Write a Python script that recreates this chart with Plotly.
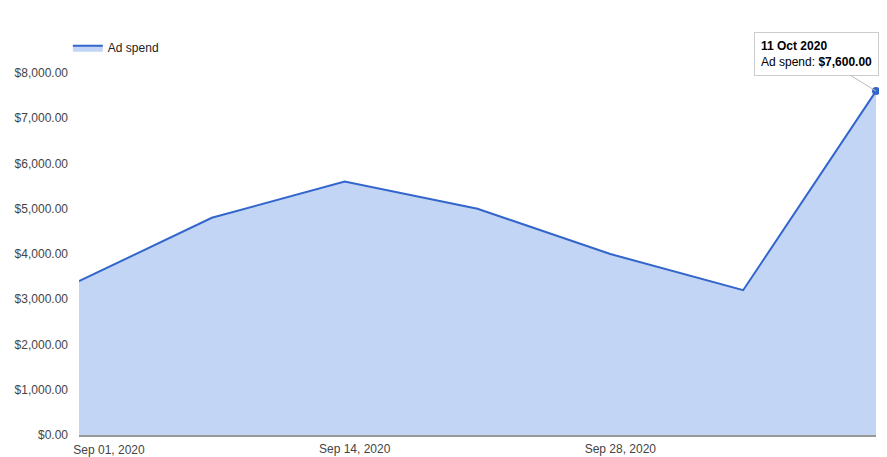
import plotly.graph_objects as go

dates = ["2020-09-01", "2020-09-08", "2020-09-14", "2020-09-21", "2020-09-28", "2020-10-04", "2020-10-11"]
ad_spend = [3400, 4800, 5600, 5000, 4000, 3200, 7600]
tick_dates = ["2020-09-01", "2020-09-14", "2020-09-28"]
tick_labels = ["Sep 01, 2020", "Sep 14, 2020", "Sep 28, 2020"]
y_ticks = [0, 1000, 2000, 3000, 4000, 5000, 6000, 7000, 8000]
y_tick_labels = [f"${v:,.2f}" for v in y_ticks]
series_name = "Ad spend"
tooltip_date = "11 Oct 2020"

LINE = "#3366cc"
FILL = "#c2d5f4"
FONT = "Liberation Sans, Arial, sans-serif"
TICKFONT = dict(family=FONT, size=12, color="#444444")

fig = go.Figure()
fig.add_trace(go.Scatter(
    x=dates, y=ad_spend, name=series_name, mode="lines",
    line=dict(color=LINE, width=2), fill="tozeroy",
    fillcolor=FILL, hoverinfo="skip",
))
# highlighted (hovered) last point, drawn on the overlay axis that carries the first date label
fig.add_trace(go.Scatter(
    x=[dates[-1]], y=[ad_spend[-1]], mode="markers", showlegend=False,
    marker=dict(color=LINE, size=8), hoverinfo="skip", cliponaxis=False,
    xaxis="x2",
))

fig.add_annotation(
    x=dates[-1], y=ad_spend[-1], xref="x", yref="y",
    text=f"<b>{tooltip_date}</b><br>{series_name}: <b>${ad_spend[-1]:,.2f}</b>",
    showarrow=True, arrowhead=0, arrowcolor="#bbbbbb", arrowwidth=1,
    ax=-60, ay=-37, align="left",
    bgcolor="white", bordercolor="#cccccc", borderwidth=1, borderpad=6,
    font=dict(family=FONT, size=12, color="#000000"),
)

# page body has an 8px margin, so the figure is sized to fit the window
fig.update_layout(
    width=879, height=449,
    margin=dict(l=71, r=11, t=65, b=22, autoexpand=False),
    paper_bgcolor="white", plot_bgcolor="white",
    font=dict(family=FONT, size=12, color="#444444"),
    showlegend=True,
    legend=dict(x=-0.014, y=1.11, xanchor="left", yanchor="top",
                font=dict(family=FONT, size=12, color="#222222"),
                bgcolor="rgba(0,0,0,0)", itemwidth=30),
    xaxis=dict(
        type="category", categoryarray=dates, range=[0, len(dates) - 1],
        automargin=False,
        tickvals=tick_dates[1:], ticktext=tick_labels[1:],
        showgrid=False, zeroline=False,
        showline=True, linecolor="#999999", linewidth=2,
        ticks="", ticklabelshift=10, ticklabelstandoff=2,
        tickfont=TICKFONT,
    ),
    xaxis2=dict(
        type="category", categoryarray=dates, range=[0, len(dates) - 1],
        overlaying="x", anchor="y", side="bottom", automargin=False,
        tickvals=tick_dates[:1], ticktext=tick_labels[:1],
        showgrid=False, zeroline=False, showline=False,
        ticks="", ticklabelshift=30, ticklabelstandoff=6,
        tickfont=TICKFONT,
    ),
    yaxis=dict(
        range=[0, 8000], tickvals=y_ticks, ticktext=y_tick_labels,
        automargin=False,
        showgrid=False, zeroline=False, showline=False,
        ticks="", ticklabelstandoff=10,
        tickfont=TICKFONT,
    ),
)

fig.write_html("out.html")
